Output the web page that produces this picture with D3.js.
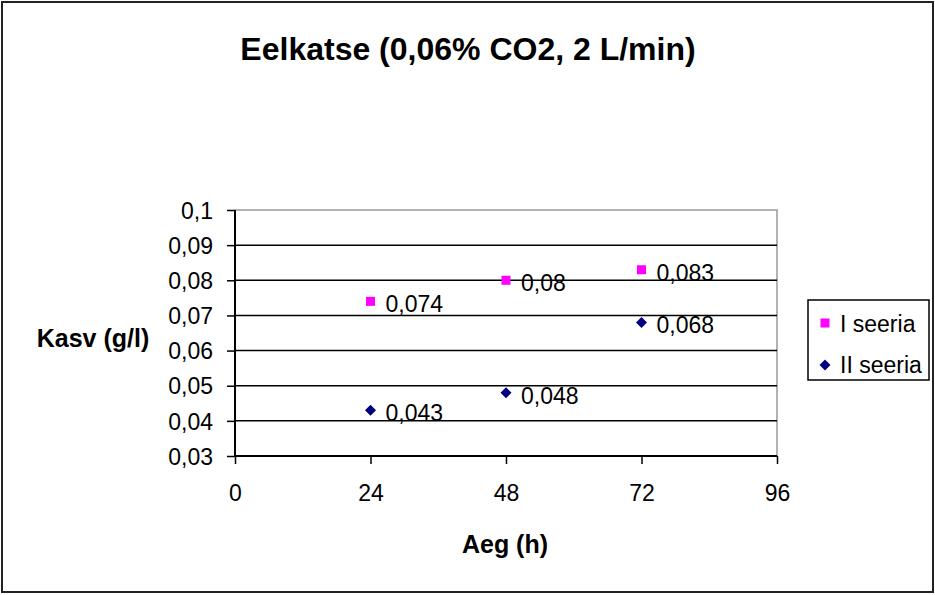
<!DOCTYPE html>
<html><head><meta charset="utf-8">
<script src="https://cdn.jsdelivr.net/npm/d3@7"></script>
<style>body{margin:0;background:#fff}svg{display:block}text{font-family:"Liberation Sans",Arial,sans-serif}</style>
</head><body>
<script>
const hours = [24, 48, 72];
const seriesI = [0.074, 0.08, 0.083];
const seriesII = [0.043, 0.048, 0.068];
const labelsI = ["0,074", "0,08", "0,083"];
const labelsII = ["0,043", "0,048", "0,068"];
const xTicks = [0, 24, 48, 72, 96];
const yTicks = [0.03, 0.04, 0.05, 0.06, 0.07, 0.08, 0.09, 0.1];
const yTickLabels = ["0,03", "0,04", "0,05", "0,06", "0,07", "0,08", "0,09", "0,1"];
const seriesNames = ["I seeria", "II seeria"];

const W = 935, H = 595;
const svg = d3.select("body").append("svg").attr("width", W).attr("height", H);
svg.append("rect").attr("x", 2).attr("y", 2).attr("width", W - 4).attr("height", H - 5)
  .attr("fill", "#fff").attr("stroke", "#222").attr("stroke-width", 2);

const L = 235, R = 777, T = 210, B = 456;
const x = d3.scaleLinear().domain([0, 96]).range([L, R]);
const y = d3.scaleLinear().domain([0.03, 0.1]).range([B, T]);

// plot border (gray top/right)
svg.append("rect").attr("x", L).attr("y", T).attr("width", R - L).attr("height", B - T)
  .attr("fill", "none").attr("stroke", "#999").attr("stroke-width", 1.5);

// gridlines
svg.append("g").selectAll("line").data(yTicks.slice(1, -1)).join("line")
  .attr("x1", L).attr("x2", R).attr("y1", d => y(d)).attr("y2", d => y(d))
  .attr("stroke", "#000").attr("stroke-width", 1.5);

// y axis
const yAxis = d3.axisLeft(y).tickValues(yTicks).tickSize(8).tickPadding(14)
  .tickFormat((d, i) => yTickLabels[i]);
const gy = svg.append("g").attr("transform", `translate(${L},0)`).call(yAxis);
gy.select(".domain").attr("stroke", "#000").attr("stroke-width", 2).attr("d", `M0,${T}V${B}`);
gy.selectAll(".tick line").attr("stroke", "#000").attr("stroke-width", 1.5);
gy.selectAll("text").attr("font-size", 23).attr("fill", "#000").attr("dy", "0.36em");

// x axis
const xAxis = d3.axisBottom(x).tickValues(xTicks).tickSize(8).tickPadding(21);
const gx = svg.append("g").attr("transform", `translate(0,${B})`).call(xAxis);
gx.select(".domain").attr("stroke", "#000").attr("stroke-width", 2).attr("d", `M${L},0H${R}`);
gx.selectAll(".tick line").attr("stroke", "#000").attr("stroke-width", 1.5);
gx.selectAll("text").attr("font-size", 23).attr("fill", "#000");

// titles
svg.append("text").attr("x", 468).attr("y", 60).attr("text-anchor", "middle")
  .attr("font-size", 32).attr("font-weight", "bold").text("Eelkatse (0,06% CO2, 2 L/min)");
svg.append("text").attr("x", 505).attr("y", 553).attr("text-anchor", "middle")
  .attr("font-size", 25).attr("font-weight", "bold").text("Aeg (h)");
svg.append("text").attr("x", 93).attr("y", 347).attr("text-anchor", "middle")
  .attr("font-size", 25).attr("font-weight", "bold").text("Kasv (g/l)");

const sq = d3.symbol().type(d3.symbolSquare).size(81);
const dm = "M0,-5.5L5.5,0L0,5.5L-5.5,0Z";

// series I
const g1 = svg.append("g");
g1.selectAll("path").data(hours).join("path")
  .attr("d", sq).attr("fill", "#ff00ff")
  .attr("transform", (d, i) => `translate(${x(d)},${y(seriesI[i])})`);
g1.selectAll("text").data(hours).join("text")
  .attr("x", d => x(d) + 15).attr("y", (d, i) => y(seriesI[i]) + 11)
  .attr("font-size", 23).text((d, i) => labelsI[i]);

// series II
const g2 = svg.append("g");
g2.selectAll("path").data(hours).join("path")
  .attr("d", dm).attr("fill", "#000080")
  .attr("transform", (d, i) => `translate(${x(d)},${y(seriesII[i])})`);
g2.selectAll("text").data(hours).join("text")
  .attr("x", d => x(d) + 15).attr("y", (d, i) => y(seriesII[i]) + 11)
  .attr("font-size", 23).text((d, i) => labelsII[i]);

// legend
const lg = svg.append("g");
lg.append("rect").attr("x", 808).attr("y", 300).attr("width", 121).attr("height", 80)
  .attr("fill", "#fff").attr("stroke", "#000").attr("stroke-width", 1.5);
lg.append("path").attr("d", sq).attr("fill", "#ff00ff").attr("transform", "translate(825,323)");
lg.append("path").attr("d", dm).attr("fill", "#000080").attr("transform", "translate(825,365)");
lg.selectAll("text").data(seriesNames).join("text")
  .attr("x", 840).attr("y", (d, i) => 332 + i * 41)
  .attr("font-size", 23).text(d => d);
</script>
</body></html>
